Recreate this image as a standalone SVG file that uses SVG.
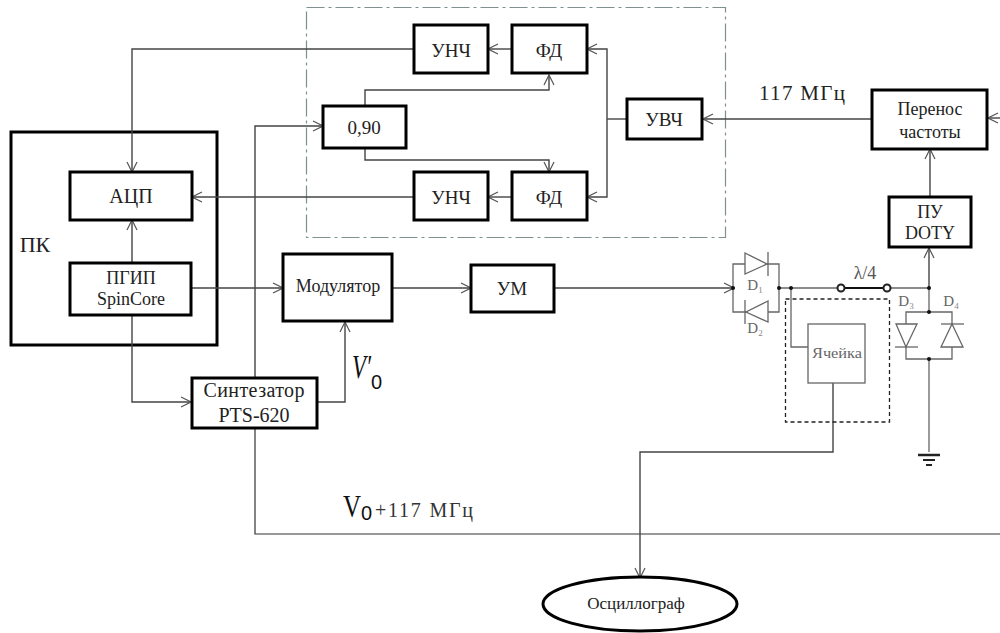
<svg xmlns="http://www.w3.org/2000/svg" width="1000" height="633" viewBox="0 0 1000 633">
<defs>
<marker id="a" viewBox="0 0 12 12" refX="11" refY="6" markerWidth="12" markerHeight="12" markerUnits="userSpaceOnUse" orient="auto"><path d="M1 1L11 6L1 11" fill="none" stroke="#555" stroke-width="1.2"/></marker>
</defs>
<style>
text{font-family:"Liberation Serif",serif;fill:#222;text-anchor:middle}
.b{fill:#fff;stroke:#000;stroke-width:3}
.t{font-size:19px}
.m{font-size:18px}
.c{fill:none;stroke:#444;stroke-width:1.4}
.g{fill:none;stroke:#666;stroke-width:1.3}
.d{fill:#111}
.f{fill:#fff;stroke:#666;stroke-width:1.3}
.l{font-size:15px;fill:#666}
.u{font-size:9px;fill:#888}
.s{font-family:"Liberation Sans",sans-serif;fill:#111;text-anchor:start}
.v{fill:#111;text-anchor:start}
</style>
<rect width="1000" height="633" fill="#fff"/>
<rect x="306.500" y="7.500" width="419" height="230" fill="none" stroke="#7f9090" stroke-width="1.2" stroke-dasharray="18 4 3 4"/>
<g id="pc"><rect x="11" y="132" width="206" height="213" fill="#fff" stroke="#000" stroke-width="3"/><text x="35" y="252" font-size="22">ПК</text></g>
<g id="connectors">
<path class="c" d="M414 49H132V172" marker-end="url(#a)"/>
<path class="c" d="M512 49H488" marker-end="url(#a)"/>
<path class="c" d="M607 119V49H587" marker-end="url(#a)"/>
<path class="c" d="M607 119V197H587" marker-end="url(#a)"/>
<path class="c" d="M627 119H607"/>
<path class="c" d="M365 105V90H549V75" marker-end="url(#a)"/>
<path class="c" d="M365 148V160H549V172" marker-end="url(#a)"/>
<path class="c" d="M512 197H488" marker-end="url(#a)"/>
<path class="c" d="M414 197H192" marker-end="url(#a)"/>
<path class="c" d="M872 119H703" marker-end="url(#a)"/>
<path class="c" d="M255 378V126H323" marker-end="url(#a)"/>
<path class="c" d="M132 263V220" marker-end="url(#a)"/>
<path class="c" d="M191 288H283" marker-end="url(#a)"/>
<path class="c" d="M132 315V402H191" marker-end="url(#a)"/>
<path class="c" d="M317 402H345V322" marker-end="url(#a)"/>
<path class="c" d="M392 288H471" marker-end="url(#a)"/>
<path class="c" d="M554 288H734" marker-end="url(#a)"/>
<path class="c" d="M930 196V149" marker-end="url(#a)"/>
<path class="c" d="M929 288V248" marker-end="url(#a)"/>
<path class="c" d="M1000 118H988" marker-end="url(#a)"/>
<path style="fill:none;stroke:#333;stroke-width:1.2" d="M255 428V534H1000"/>
<path class="c" d="M833 383V452H640V578" marker-end="url(#a)"/>
<path class="g" d="M779 288H839M887 288H929V312M929 358V452"/>
<path class="g" d="M791 288V347H808"/>
</g>
<g id="adc"><rect class="b" x="70" y="172" width="122" height="48"/><text x="131" y="203" font-size="20">АЦП</text></g>
<g id="pgip"><rect class="b" x="70" y="263" width="121" height="52"/><text class="m" x="131" y="284">ПГИП</text><text class="m" x="131" y="305">SpinCore</text></g>
<g id="unch1"><rect class="b" x="414" y="25" width="74" height="48"/><text class="t" x="451" y="57">УНЧ</text></g>
<g id="fd1"><rect class="b" x="512" y="25" width="75" height="48"/><text class="t" x="549" y="57">ФД</text></g>
<g id="phase"><rect class="b" x="323" y="106" width="83" height="42"/><text class="t" x="364" y="134">0,90</text></g>
<g id="uvch"><rect class="b" x="627" y="99" width="75" height="40"/><text class="t" x="664" y="126">УВЧ</text></g>
<g id="unch2"><rect class="b" x="414" y="172" width="74" height="48"/><text class="t" x="451" y="204">УНЧ</text></g>
<g id="fd2"><rect class="b" x="512" y="172" width="75" height="48"/><text class="t" x="549" y="204">ФД</text></g>
<g id="transfer"><rect class="b" x="872" y="90" width="115" height="59"/><text class="m" x="930" y="115">Перенос</text><text class="m" x="930" y="138">частоты</text></g>
<g id="doty"><rect class="b" x="889" y="197" width="82" height="50"/><text class="m" x="930" y="218">ПУ</text><text class="m" x="930" y="239">DOTY</text></g>
<g id="modulator"><rect class="b" x="283" y="254" width="109" height="67"/><text class="m" x="338" y="292">Модулятор</text></g>
<g id="um"><rect class="b" x="471" y="265" width="83" height="47"/><text class="t" x="512" y="295">УМ</text></g>
<g id="synth"><rect class="b" x="192" y="378" width="125" height="50"/><text x="254" y="397" font-size="20" textLength="101">Синтезатор</text><text x="254" y="422" font-size="20">PTS-620</text></g>
<g id="diodes-left">
<path class="g" d="M733 288V264H779V312H733V288"/>
<path class="f" d="M745 253L767 264L745 274Z"/><path class="g" d="M768 252V276"/>
<path class="f" d="M768 301L746 312L768 322Z"/><path class="g" d="M745 300V324"/>
<circle class="d" cx="733" cy="288" r="2"/><circle class="d" cx="779" cy="288" r="2"/><circle class="d" cx="791" cy="288" r="2"/>
<text class="l" x="755" y="290">D<tspan class="u" dy="3">1</tspan></text>
<text class="l" x="755" y="333">D<tspan class="u" dy="3">2</tspan></text>
</g>
<g id="lambda"><path d="M841 288H887" stroke="#111" stroke-width="2" fill="none"/><circle cx="841" cy="288" r="3.500" fill="#fff" stroke="#222" stroke-width="2"/><circle cx="887" cy="288" r="3.500" fill="#fff" stroke="#222" stroke-width="2"/><text x="865" y="279" font-size="18" style="fill:#555">λ/4</text></g>
<g id="diodes-right">
<path class="g" d="M929 312H906V359H952V312H929"/>
<path class="f" d="M896 324H917L906 347Z"/><path class="g" d="M895 347H918"/>
<path class="f" d="M941 347H963L952 324Z"/><path class="g" d="M941 324H964"/>
<circle class="d" cx="929" cy="288" r="2"/><circle class="d" cx="929" cy="312" r="2"/><circle class="d" cx="929" cy="359" r="2"/>
<text class="l" x="906" y="306">D<tspan class="u" dy="3">3</tspan></text>
<text class="l" x="951" y="306">D<tspan class="u" dy="3">4</tspan></text>
</g>
<g id="ground"><path d="M918 455H940" stroke="#222" stroke-width="2.500"/><path d="M923 460H935" stroke="#222" stroke-width="2"/><path d="M926 465H932" stroke="#222" stroke-width="2"/></g>
<g id="cell">
<rect x="785.500" y="299" width="104" height="123" fill="none" stroke="#222" stroke-width="1.300" stroke-dasharray="4 3"/>
<rect x="808" y="324" width="57" height="59" fill="#fff" stroke="#666" stroke-width="1.300"/>
<text x="837" y="358" font-size="15" style="fill:#666" textLength="50" lengthAdjust="spacingAndGlyphs">Ячейка</text>
</g>
<g id="oscilloscope"><ellipse cx="640" cy="604" rx="97" ry="27" fill="#fff" stroke="#000" stroke-width="3"/><text x="636" y="609" font-size="17">Осциллограф</text></g>
<text x="802" y="100" font-size="21" textLength="86">117 МГц</text>
<text class="v" x="352" y="378" font-size="33" font-style="italic" textLength="19" lengthAdjust="spacingAndGlyphs">V′</text>
<text class="s" x="371" y="389" font-size="20">0</text>
<text class="v" x="343" y="517" font-size="31" textLength="18" lengthAdjust="spacingAndGlyphs">V</text>
<text class="s" x="361" y="520" font-size="20">0</text>
<text x="424" y="517" font-size="20" textLength="98" style="fill:#333">+117 МГц</text>
</svg>
